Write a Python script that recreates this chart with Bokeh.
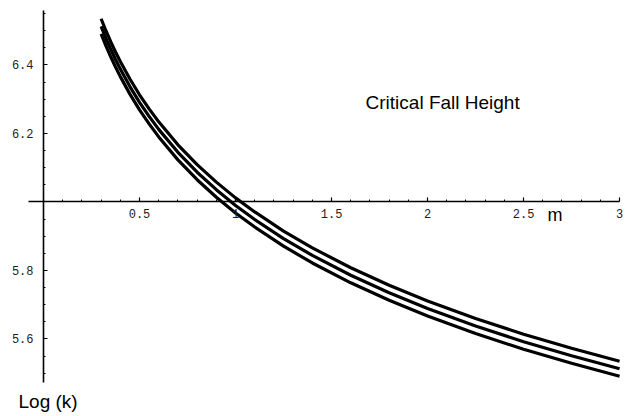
from bokeh.plotting import figure
from bokeh.models import LinearAxis, FixedTicker, CustomJSTickFormatter, Range1d, Label, ColumnDataSource
from bokeh.embed import file_html
from bokeh.resources import INLINE

# ---- data ----
m = [0.3, 0.325, 0.35, 0.375, 0.4, 0.45, 0.5, 0.55, 0.6, 0.7, 0.8, 0.9,
     1.0, 1.1, 1.25, 1.4, 1.6, 1.8, 2.0, 2.25, 2.5, 2.75, 3.0]
logk_upper = [6.535, 6.500, 6.468, 6.438, 6.410, 6.359, 6.313, 6.272, 6.234, 6.167, 6.109, 6.058,
              6.012, 5.971, 5.915, 5.866, 5.808, 5.757, 5.711, 5.660, 5.614, 5.573, 5.535]
logk_middle = [6.513, 6.478, 6.446, 6.416, 6.388, 6.337, 6.291, 6.250, 6.212, 6.145, 6.087, 6.036,
               5.990, 5.949, 5.893, 5.844, 5.786, 5.735, 5.689, 5.638, 5.592, 5.551, 5.513]
logk_lower = [6.491, 6.456, 6.424, 6.394, 6.366, 6.315, 6.269, 6.228, 6.190, 6.123, 6.065, 6.014,
              5.968, 5.927, 5.871, 5.822, 5.764, 5.713, 5.667, 5.616, 5.570, 5.529, 5.491]

x_ticks = [0.5, 1, 1.5, 2, 2.5, 3]
x_minor = [0.1, 0.2, 0.3, 0.4, 0.6, 0.7, 0.8, 0.9, 1.1, 1.2, 1.3, 1.4, 1.6, 1.7, 1.8, 1.9,
           2.1, 2.2, 2.3, 2.4, 2.6, 2.7, 2.8, 2.9]
y_ticks = [5.6, 5.8, 6.2, 6.4]
y_minor = [5.5, 5.55, 5.65, 5.7, 5.75, 5.85, 5.9, 5.95, 6.05, 6.1, 6.15, 6.25, 6.3, 6.35,
           6.45, 6.5, 6.55]

annotation_text = "Critical Fall Height"
x_label = "m"
y_label = "Log (k)"

# ---- figure ----
p = figure(width=626, height=416, output_backend="svg", toolbar_location=None,
           x_range=Range1d(-0.2240, 3.036), y_range=Range1d(5.3737, 6.5883),
           x_axis_location=None, y_axis_location=None, min_border=0)
p.outline_line_color = None
p.background_fill_color = "white"
p.border_fill_color = "white"
for g in p.grid:
    g.visible = False

fmt = "return tick.toString();"

xaxis = LinearAxis(fixed_location=6.0, bounds=(-0.078, 3.0),
                   ticker=FixedTicker(ticks=x_ticks, minor_ticks=x_minor),
                   formatter=CustomJSTickFormatter(code=fmt))
yaxis = LinearAxis(fixed_location=0.0, bounds=(5.472, 6.56),
                   ticker=FixedTicker(ticks=y_ticks, minor_ticks=y_minor),
                   formatter=CustomJSTickFormatter(code=fmt))
for ax in (xaxis, yaxis):
    ax.axis_line_color = "black"
    ax.axis_line_width = 1.6
    ax.major_tick_in = 4
    ax.major_tick_out = 0
    ax.minor_tick_in = 2
    ax.minor_tick_out = 0
    ax.major_tick_line_color = "black"
    ax.minor_tick_line_color = "black"
    ax.major_tick_line_width = 1.2
    ax.minor_tick_line_width = 1
    ax.major_label_text_font = "Liberation Mono"
    ax.major_label_text_font_size = "12px"
    ax.major_label_text_color = "#222222"
xaxis.major_label_standoff = 7
yaxis.major_label_standoff = 10
p.add_layout(xaxis, "below")
p.add_layout(yaxis, "left")

src = ColumnDataSource(dict(m=m, up=logk_upper, mid=logk_middle, lo=logk_lower))
for col in ("up", "mid", "lo"):
    p.line("m", col, source=src, line_color="black", line_width=3.2)

p.add_layout(Label(x=1.677, y=6.2905, text=annotation_text, text_font="Liberation Sans",
                   text_font_size="19px", text_baseline="middle", text_align="left",
                   text_color="black"))
p.add_layout(Label(x=2.625, y=5.962, text=x_label, text_font="Liberation Sans",
                   text_font_size="18px", text_baseline="middle", text_align="left",
                   text_color="black"))
p.add_layout(Label(x=-0.130, y=5.417, text=y_label, text_font="Liberation Sans",
                   text_font_size="19px", text_baseline="middle", text_align="left",
                   text_color="black"))

open("out.html", "w").write(file_html(p, INLINE))
